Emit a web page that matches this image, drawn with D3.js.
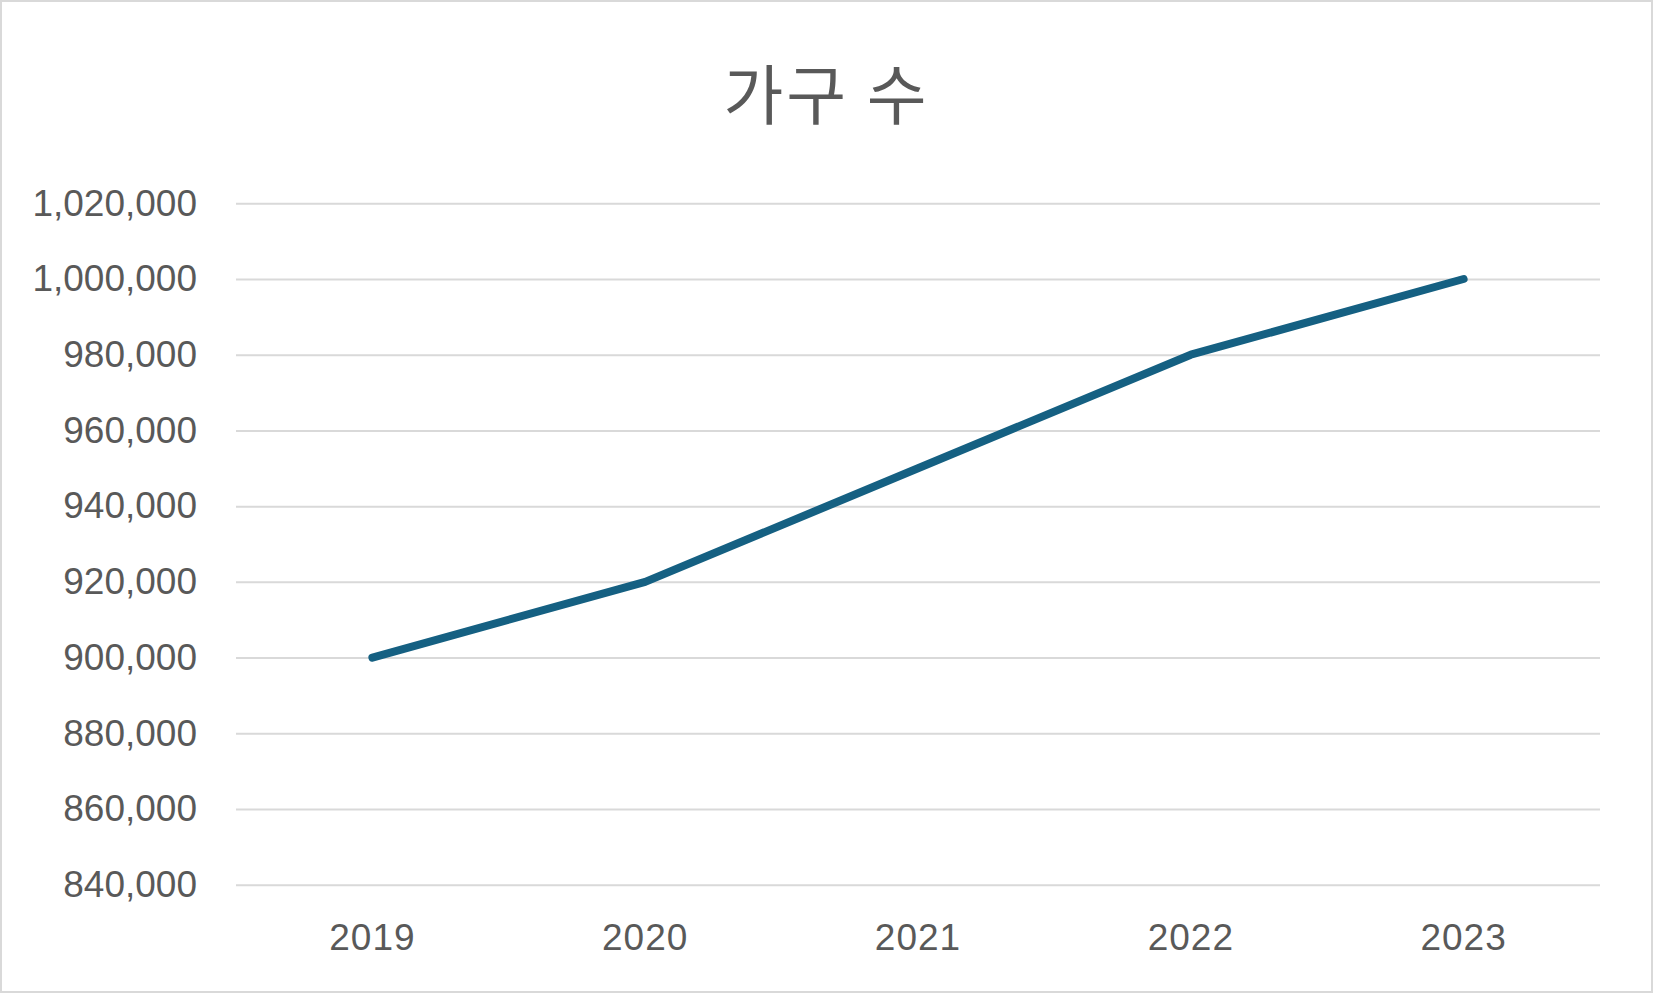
<!DOCTYPE html>
<html><head><meta charset="utf-8">
<script src="https://cdn.jsdelivr.net/npm/d3@7"></script>
<style>html,body{margin:0;padding:0;background:#fff;overflow:hidden}</style>
</head><body>
<svg id="chart" width="1653" height="993"></svg>
<script>
const title = "가구 수";
const years = ["2019", "2020", "2021", "2022", "2023"];
const households = [900000, 920000, 950000, 980000, 1000000];
const yTicks = [840000, 860000, 880000, 900000, 920000, 940000, 960000, 980000, 1000000, 1020000];

const W = 1653, H = 993;
const m = {left: 236, right: 53, top: 203.3, bottom: 108.3};
const svg = d3.select("#chart");
const textColor = "#595959";
const font = "'Liberation Sans', Arial, sans-serif";

svg.append("rect").attr("x", 1).attr("y", 1).attr("width", W - 2).attr("height", H - 2)
  .attr("fill", "#fff").attr("stroke", "#d9d9d9").attr("stroke-width", 2);

const x = d3.scaleBand().domain(years).range([m.left, W - m.right]).padding(0);
const y = d3.scaleLinear().domain([840000, 1020000]).range([H - m.bottom, m.top]);

const yAxis = d3.axisLeft(y).tickValues(yTicks).tickSize(-(W - m.left - m.right))
  .tickPadding(39).tickFormat(d3.format(","));
const gy = svg.append("g").attr("transform", `translate(${m.left},0)`).call(yAxis);
gy.select(".domain").remove();
gy.selectAll(".tick line").attr("stroke", "#d9d9d9").attr("stroke-width", 2);
gy.selectAll(".tick text").attr("fill", textColor).style("font-family", font).style("font-size", "37px");

const xAxis = d3.axisBottom(x).tickSize(0).tickPadding(39);
const gx = svg.append("g").attr("transform", `translate(0,${H - m.bottom})`).call(xAxis);
gx.select(".domain").remove();
gx.selectAll(".tick text").attr("fill", textColor).style("font-family", font)
  .style("font-size", "37px").style("letter-spacing", "1px");

const line = d3.line().x((d, i) => x(years[i]) + x.bandwidth() / 2).y(d => y(d));
svg.append("path").datum(households).attr("d", line)
  .attr("fill", "none").attr("stroke", "#156082").attr("stroke-width", 8)
  .attr("stroke-linecap", "round").attr("stroke-linejoin", "round");

svg.append("text").attr("x", W / 2).attr("y", 91).attr("text-anchor", "middle")
  .attr("dominant-baseline", "central")
  .attr("fill", textColor).style("font-family", "'Noto Sans CJK KR', sans-serif")
  .style("font-size", "65px").style("letter-spacing", "3px").text(title);
</script>
</body></html>
